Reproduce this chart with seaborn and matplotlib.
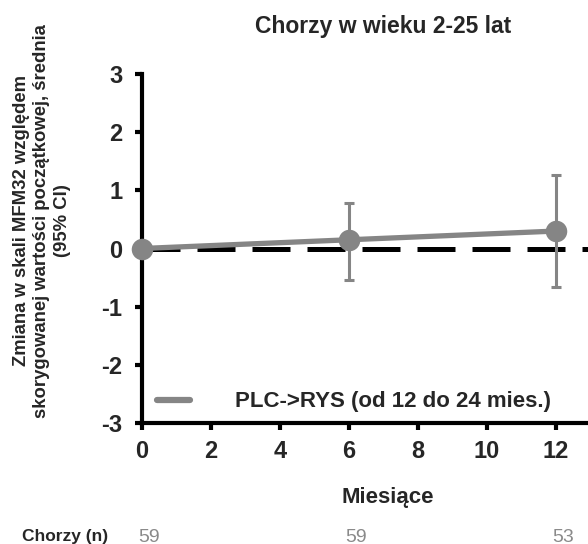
import matplotlib
matplotlib.use('Agg')
import matplotlib.pyplot as plt
import matplotlib.transforms as mtransforms
import seaborn as sns
import pandas as pd

# Data
months = [0, 6, 12]
mean_change = [0.0, 0.15, 0.30]
ci_low = [0.0, -0.54, -0.66]
ci_high = [0.0, 0.78, 1.26]
n_patients = [59, 59, 53]
series_name = 'PLC->RYS (od 12 do 24 mies.)'

df = pd.DataFrame({'Miesiące': months, 'Zmiana': mean_change, 'grupa': series_name})

sns.set_style('white')
plt.rcParams['font.family'] = ['Liberation Sans', 'DejaVu Sans']
plt.rcParams['font.weight'] = 'bold'

grey = '#858585'

fig = plt.figure(figsize=(5.88, 5.44), dpi=100)
ax = fig.add_axes([142 / 588, 1 - 423 / 544, 1 - 142 / 588, (423 - 74) / 544])

# zero reference line
ax.axhline(0, color='black', lw=3.6, dashes=(7.6, 3.4), zorder=1)

# error bars (95% CI)
yerr = [[m - lo for m, lo in zip(mean_change, ci_low)],
        [hi - m for m, hi in zip(mean_change, ci_high)]]
ax.errorbar(months, mean_change, yerr=yerr, fmt='none', ecolor=grey,
            elinewidth=2.2, capsize=3.5, capthick=2.2, zorder=2)

sns.lineplot(data=df, x='Miesiące', y='Zmiana', hue='grupa', palette=[grey],
             marker='o', markersize=15.5, markeredgewidth=0, lw=3.8,
             ax=ax, zorder=3, clip_on=False)

ax.set_xlim(0, 12.93)
ax.set_ylim(-3, 3)
ax.set_xticks(range(0, 13, 2))
ax.set_yticks(range(-3, 4))
ax.set_yticklabels([str(v) for v in range(-3, 4)])

for side in ['top', 'right']:
    ax.spines[side].set_visible(False)
for side in ['left', 'bottom']:
    ax.spines[side].set_color('black')
    ax.spines[side].set_linewidth(3)
ax.tick_params(axis='both', direction='out', length=5, width=3, color='black',
               labelsize=17, left=True, bottom=True)
ax.tick_params(axis='x', pad=7)
ax.tick_params(axis='y', pad=9)
for lbl in ax.get_xticklabels() + ax.get_yticklabels():
    lbl.set_fontweight('bold')

ax.set_xlabel('')
ax.set_ylabel('')

leg = ax.legend(loc='lower left', bbox_to_anchor=(-0.011, -0.027), frameon=False,
                handlelength=1.5, handletextpad=2.0, fontsize=16)
for h in leg.get_lines():
    h.set_linewidth(4.5)
    h.set_marker('')

fig.text(383 / 588, 1 - 26 / 544, 'Chorzy w wieku 2-25 lat', ha='center', va='center',
         fontsize=16.5, fontweight='bold')
fig.text(388 / 588, 1 - 497 / 544, 'Miesiące', ha='center', va='center',
         fontsize=16, fontweight='bold')
fig.text(42 / 588, 1 - 221 / 544,
         'Zmiana w skali MFM32 względem\nskorygowanej wartości początkowej, średnia\n(95% CI)',
         ha='center', va='center', multialignment='center', rotation=90,
         fontsize=13.3, fontweight='bold', linespacing=1.25)

fig.text(65 / 588, 1 - 537 / 544, 'Chorzy (n)', ha='center', va='center',
         fontsize=12.5, fontweight='bold')
trans = mtransforms.blended_transform_factory(ax.transData, fig.transFigure)
for m, n in zip(months, n_patients):
    ax.text(m + 0.2, 1 - 537 / 544, str(n), transform=trans, ha='center', va='center',
            fontsize=14, fontweight='normal', color='#8a8a8a', clip_on=False)

fig.savefig('out.png', dpi=100)
